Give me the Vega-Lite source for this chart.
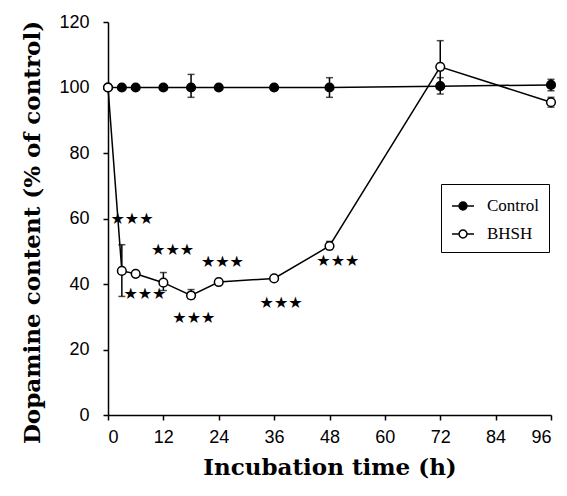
{
  "$schema": "https://vega.github.io/schema/vega-lite/v6.json",
  "autosize": {"type": "none"},
  "width": 443,
  "height": 393,
  "padding": {"left": 108, "top": 22, "right": 16, "bottom": 81},
  "background": "white",
  "config": {
    "font": "Liberation Serif",
    "view": {"stroke": null},
    "axis": {
      "grid": false,
      "domainColor": "black",
      "domainWidth": 1.5,
      "tickColor": "black",
      "tickWidth": 1.5,
      "tickSize": 5,
      "labelFont": "Liberation Sans",
      "labelFontSize": 18,
      "labelColor": "black",
      "titleFont": "DejaVu Serif",
      "titleFontWeight": "bold",
      "titleColor": "black",
      "titleFontSize": 23
    },
    "legend": {
      "labelFont": "Liberation Serif",
      "labelFontSize": 17,
      "labelColor": "black",
      "labelOffset": 12
    }
  },
  "datasets": {
    "pts": [
      {"series": "Control", "time": 0, "value": 100, "lo": null, "hi": null},
      {"series": "Control", "time": 3, "value": 100, "lo": null, "hi": null},
      {"series": "Control", "time": 6, "value": 100, "lo": null, "hi": null},
      {"series": "Control", "time": 12, "value": 100, "lo": null, "hi": null},
      {"series": "Control", "time": 18, "value": 100, "lo": 97, "hi": 104},
      {"series": "Control", "time": 24, "value": 100, "lo": null, "hi": null},
      {"series": "Control", "time": 36, "value": 100, "lo": null, "hi": null},
      {"series": "Control", "time": 48, "value": 100, "lo": 97, "hi": 103},
      {"series": "Control", "time": 72, "value": 100.4, "lo": 98, "hi": 103},
      {"series": "Control", "time": 96, "value": 100.8, "lo": 99, "hi": 102.5},
      {"series": "BHSH", "time": 0, "value": 100, "lo": null, "hi": null},
      {"series": "BHSH", "time": 3, "value": 44, "lo": 36.2, "hi": 52},
      {"series": "BHSH", "time": 6, "value": 43.1, "lo": null, "hi": null},
      {"series": "BHSH", "time": 12, "value": 40.4, "lo": 38, "hi": 43.5},
      {"series": "BHSH", "time": 18, "value": 36.5, "lo": 35.5, "hi": 38.3},
      {"series": "BHSH", "time": 24, "value": 40.6, "lo": null, "hi": null},
      {"series": "BHSH", "time": 36, "value": 41.7, "lo": null, "hi": null},
      {"series": "BHSH", "time": 48, "value": 51.6, "lo": 50.5, "hi": 53},
      {"series": "BHSH", "time": 72, "value": 106.3, "lo": 100, "hi": 114.3},
      {"series": "BHSH", "time": 96, "value": 95.5, "lo": 94, "hi": 97}
    ],
    "stars": [
      {"time": 5.2, "value": 59.7, "label": "★★★"},
      {"time": 14, "value": 50.5, "label": "★★★"},
      {"time": 24.8, "value": 46.7, "label": "★★★"},
      {"time": 8, "value": 37, "label": "★★★"},
      {"time": 18.6, "value": 29.7, "label": "★★★"},
      {"time": 37.5, "value": 34.1, "label": "★★★"},
      {"time": 49.8, "value": 46.9, "label": "★★★"}
    ]
  },
  "layer": [
    {
      "data": {"name": "pts"},
      "transform": [{"filter": "datum.hi != null"}],
      "mark": {"type": "rule", "color": "black", "strokeWidth": 1.5},
      "encoding": {
        "x": {"field": "time", "type": "quantitative"},
        "y": {"field": "lo", "type": "quantitative"},
        "y2": {"field": "hi"}
      }
    },
    {
      "data": {"name": "pts"},
      "transform": [{"filter": "datum.hi != null"}, {"fold": ["lo", "hi"], "as": ["end", "v"]}],
      "mark": {"type": "tick", "color": "black", "size": 7, "thickness": 1.5, "orient": "horizontal"},
      "encoding": {
        "x": {"field": "time", "type": "quantitative"},
        "y": {"field": "v", "type": "quantitative"}
      }
    },
    {
      "data": {"name": "pts"},
      "mark": {"type": "line", "color": "black", "strokeWidth": 1.5},
      "encoding": {
        "x": {"field": "time", "type": "quantitative"},
        "y": {"field": "value", "type": "quantitative"},
        "detail": {"field": "series"}
      }
    },
    {
      "data": {"name": "pts"},
      "mark": {"type": "point", "shape": "circle", "filled": true, "size": 75, "stroke": "black", "strokeWidth": 1.5, "opacity": 1},
      "encoding": {
        "x": {
          "field": "time", "type": "quantitative",
          "scale": {"domain": [0, 96], "nice": false},
          "axis": {"values": [0, 12, 24, 36, 48, 60, 72, 84, 96], "title": "Incubation time (h)", "labelPadding": 8, "titlePadding": 10}
        },
        "y": {
          "field": "value", "type": "quantitative",
          "scale": {"domain": [0, 120], "nice": false},
          "axis": {"values": [0, 20, 40, 60, 80, 100, 120], "title": "Dopamine content (% of control)", "labelPadding": 14, "titlePadding": 14, "titleY": 210}
        },
        "fill": {
          "field": "series", "type": "nominal",
          "scale": {"domain": ["Control", "BHSH"], "range": ["black", "white"]},
          "legend": {
            "title": null,
            "orient": "none",
            "legendX": 333,
            "legendY": 162,
            "strokeColor": "black",
            "fillColor": "white",
            "padding": 10,
            "rowPadding": 8,
            "symbolType": "M -1 0 L -0.36 0 M 0.36 0 L 1 0 M 0.36 0 A 0.36 0.36 0 1 1 -0.36 0 A 0.36 0.36 0 1 1 0.36 0 Z",
            "symbolSize": 484,
            "symbolStrokeColor": "black",
            "symbolStrokeWidth": 1.5,
            "labelFont": "Liberation Serif",
            "labelFontSize": 17,
            "labelColor": "black",
            "labelOffset": 12
          }
        },
        "order": {"field": "series", "sort": "descending"}
      }
    },
    {
      "data": {"name": "stars"},
      "mark": {"type": "text", "font": "DejaVu Sans", "fontSize": 16, "baseline": "middle", "color": "black"},
      "encoding": {
        "x": {"field": "time", "type": "quantitative"},
        "y": {"field": "value", "type": "quantitative"},
        "text": {"field": "label"}
      }
    }
  ]
}
